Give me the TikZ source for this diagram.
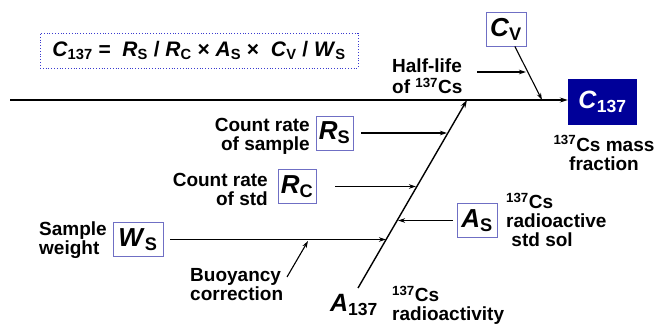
\documentclass[tikz,border=0pt]{standalone}
\usepackage{fontspec}
\setmainfont{Liberation Sans}
\usepackage{tikz}
\usetikzlibrary{positioning,arrows.meta,calc}
\definecolor{BoxNavy}{HTML}{000099}
\definecolor{BoxEdge}{HTML}{6F6FC4}
\definecolor{DotBlue}{HTML}{3A3AD0}

% bold italic symbol with upright bold subscript
\newcommand{\qsym}[2]{\textit{#1}\textsubscript{#2}}

\begin{document}
\begin{tikzpicture}[x=1pt,y=-1pt,
  every node/.style={font=\fontsize{19}{19}\selectfont\bfseries, inner sep=0pt},
  var/.style={draw=BoxEdge, thick, fill=white, align=center, inner sep=2pt,
              minimum height=34pt, font=\fontsize{26}{28}\selectfont\bfseries},
  result/.style={fill=BoxNavy, text=white, minimum width=69pt, minimum height=46pt,
                 font=\fontsize{25}{27}\selectfont\bfseries},
  lbl/.style={align=left},
  spine/.style={draw=black, line width=1.4pt, -{Stealth[length=8pt,width=5pt]}},
  feed/.style={draw=black, line width=1.1pt, -{Stealth[length=7pt,width=4.5pt]}}]

  \useasboundingbox (0,0) rectangle (663,326);

  % ===== formula =====
  \node[draw=DotBlue, thick, dotted, minimum width=318pt, minimum height=35pt,
        font=\fontsize{21}{23}\selectfont\bfseries] (eqn) at (199,50.5)
        {\qsym{C}{137} =\ \ \qsym{R}{S} / \qsym{R}{C} × \qsym{A}{S} ×\ \ \qsym{C}{V} / \qsym{W}{S}};

  % ===== backbone =====
  \coordinate (tail)   at (10,100);
  \node[result] (c137) at (602.5,102) {\qsym{C}{137}};
  \node[align=center] (c137lbl) at (604,153) {\textsuperscript{137}Cs mass\\fraction};
  \draw[spine] (tail) -- (tail -| c137.west);

  % ===== slanted branch =====
  \coordinate (spineB) at (358,288);
  \coordinate (spineT) at (467,100);
  \draw[spine] (spineB) -- (spineT);
  \node[font=\fontsize{25}{27}\selectfont\bfseries] (a137) at (354,305) {\qsym{A}{137}};
  \node[lbl, anchor=west] (a137lbl) at (392,305) {\textsuperscript{137}Cs\\radioactivity};

  % ===== variable boxes =====
  \node[var, minimum width=40pt] (cv) at (506,29)    {\qsym{C}{V}};
  \node[var, minimum width=37pt] (rs) at (334.5,133) {\qsym{R}{S}};
  \node[var, minimum width=38pt] (rc) at (297,186.5) {\qsym{R}{C}};
  \node[var, minimum width=40pt] (as) at (477,220.5) {\qsym{A}{S}};
  \node[var, minimum width=50pt] (ws) at (138,239.5) {\qsym{W}{S}};

  % ===== labels =====
  \node[lbl, anchor=west, font=\fontsize{19}{21}\selectfont\bfseries] (hl) at (392,76) {Half-life\\of \textsuperscript{137}Cs};
  \node[align=right, anchor=east] (rslbl) at (310,136) {Count rate\\of sample};
  \node[align=right, anchor=east] (rclbl) at (268,189) {Count rate\\of std};
  \node[lbl, anchor=west]  (aslbl) at (506,220) {\textsuperscript{137}Cs\\radioactive\\\ std sol};
  \node[lbl, anchor=west]  (wslbl) at (39,240)  {Sample\\weight};
  \node[lbl, anchor=west]  (buoy)  at (190,285) {Buoyancy\\correction};

  % ===== end points on the lines =====
  \coordinate (cvFoot) at (542,100);
  \coordinate (hlBeg)  at (477,72);
  \coordinate (hlEnd)  at (526,72);
  \coordinate (rsEnd)  at (447,133);
  \coordinate (rcEnd)  at (416,186.5);
  \coordinate (asEnd)  at (398,220.5);
  \coordinate (wsEnd)  at (386,239.5);
  \coordinate (bcBeg)  at (287,277);
  \coordinate (bcEnd)  at (308,241);

  % ===== causes =====
  \draw[feed] (cv) -- (cvFoot);
  \draw[feed] (hlBeg) -- (hlEnd);
  \draw[feed, shorten <=8pt] (rs) -- (rsEnd);
  \draw[feed, shorten <=19pt] (rc) -- (rcEnd);
  \draw[feed, shorten <=4pt] (as) -- (asEnd);
  \draw[feed, shorten <=7pt] (ws) -- (wsEnd);
  \draw[feed] (bcBeg) -- (bcEnd);

\end{tikzpicture}
\end{document}
